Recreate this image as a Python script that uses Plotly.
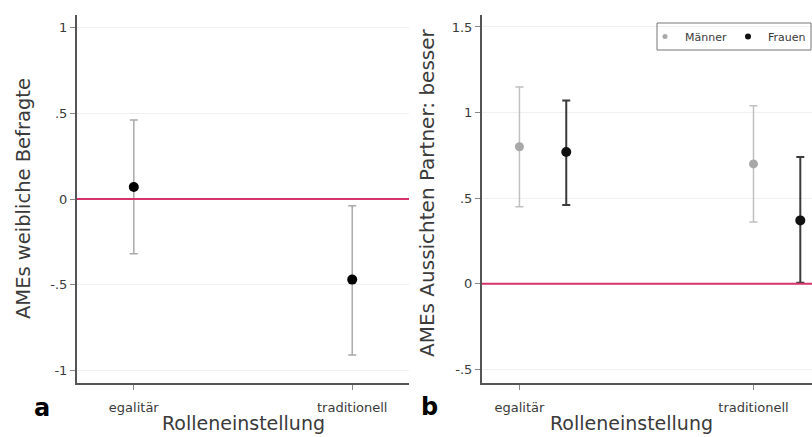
import plotly.graph_objects as go

categories = ["egalitär", "traditionell"]
cat_pos = [1, 2]

# Panel a: AMEs weibliche Befragte
a_est = [0.07, -0.47]
a_lo = [-0.32, -0.91]
a_hi = [0.46, -0.04]

# Panel b: AMEs Aussichten Partner: besser
m_est = [0.80, 0.70]
m_lo = [0.45, 0.36]
m_hi = [1.15, 1.04]
f_est = [0.77, 0.37]
f_lo = [0.46, 0.005]
f_hi = [1.07, 0.74]
f_offset = 0.2

a_ticks = [1, 0.5, 0, -0.5, -1]
a_ticktext = ["1", ".5", "0", "-.5", "-1"]
b_ticks = [1.5, 1, 0.5, 0, -0.5]
b_ticktext = ["1.5", "1", ".5", "0", "-.5"]

W, H = 812, 437
FONT = "DejaVu Sans, Liberation Sans, Arial, sans-serif"
TXT = "#3a3a3a"

fig = go.Figure()

fig.add_trace(go.Scatter(
    x=cat_pos, y=a_est, mode="markers", xaxis="x", yaxis="y", showlegend=False,
    marker=dict(color="black", size=10),
    error_y=dict(type="data", symmetric=False,
                 array=[h - e for h, e in zip(a_hi, a_est)],
                 arrayminus=[e - l for e, l in zip(a_est, a_lo)],
                 color="#a9a9a9", thickness=1.5, width=4),
))

fig.add_trace(go.Scatter(
    x=cat_pos, y=m_est, mode="markers", xaxis="x2", yaxis="y2", name="Männer", showlegend=False,
    marker=dict(color="#a8a8a8", size=9),
    error_y=dict(type="data", symmetric=False,
                 array=[h - e for h, e in zip(m_hi, m_est)],
                 arrayminus=[e - l for e, l in zip(m_est, m_lo)],
                 color="#c0c0c0", thickness=1.5, width=4),
))
fig.add_trace(go.Scatter(
    x=[p + f_offset for p in cat_pos], y=f_est, mode="markers", xaxis="x2", yaxis="y2",
    name="Frauen", showlegend=False,
    marker=dict(color="#111111", size=10),
    error_y=dict(type="data", symmetric=False,
                 array=[h - e for h, e in zip(f_hi, f_est)],
                 arrayminus=[e - l for e, l in zip(f_est, f_lo)],
                 color="#3a3a3a", thickness=2, width=4),
))
# legend entries (small symbols as in the original)
fig.add_trace(go.Scatter(x=[None], y=[None], mode="markers", name="Männer", xaxis="x2", yaxis="y2",
                         marker=dict(color="#a8a8a8", size=5)))
fig.add_trace(go.Scatter(x=[None], y=[None], mode="markers", name="Frauen", xaxis="x2", yaxis="y2",
                         marker=dict(color="#111111", size=6)))

ydom = [1 - 383 / H, 1 - 15 / H]
axis_common = dict(showline=True, linecolor="#555555", linewidth=2, ticks="outside",
                   ticklen=5, tickcolor="#888888", tickfont=dict(family=FONT, size=13, color=TXT),
                   zeroline=False, automargin=False)
xtickfont = dict(family=FONT, size=13, color=TXT)

fig.update_layout(
    width=W, height=H, margin=dict(l=0, r=0, t=0, b=0, autoexpand=False),
    paper_bgcolor="white", plot_bgcolor="white",
    font=dict(family=FONT),
    xaxis=dict(domain=[77 / W, 409 / W], range=[0.74, 2.26], tickvals=cat_pos, ticktext=categories,
               showgrid=False, anchor="y", ticklabelstandoff=6,
               **{**axis_common, "tickfont": xtickfont}),
    yaxis=dict(domain=ydom, range=[-1.073, 1.073], tickvals=a_ticks, ticktext=a_ticktext,
               showgrid=True, gridcolor="#f0f0f0", anchor="x", **axis_common),
    xaxis2=dict(domain=[482 / W, 1.0], range=[0.84, 2.25], tickvals=cat_pos, ticktext=categories,
                showgrid=False, anchor="y2", ticklabelstandoff=6,
                **{**axis_common, "tickfont": xtickfont}),
    yaxis2=dict(domain=ydom, range=[-0.58, 1.57], tickvals=b_ticks, ticktext=b_ticktext,
                showgrid=True, gridcolor="#f0f0f0", anchor="x2", **axis_common),
    legend=dict(x=645 / W, y=1 - 36.5 / H, xanchor="left", yanchor="middle", orientation="h",
                borderwidth=0, bgcolor="rgba(0,0,0,0)",
                font=dict(family=FONT, size=11, color=TXT),
                entrywidth=38, entrywidthmode="pixels"),
    shapes=[
        dict(type="line", xref="x domain", yref="y", x0=0, x1=1, y0=0, y1=0,
             line=dict(color="#d6336b", width=2)),
        dict(type="line", xref="x2 domain", yref="y2", x0=0, x1=1, y0=0, y1=0,
             line=dict(color="#d6336b", width=2)),
        dict(type="rect", xref="paper", yref="paper", x0=657 / W, x1=811 / W,
             y0=1 - 50 / H, y1=1 - 23 / H, line=dict(color="#777777", width=1),
             fillcolor="rgba(0,0,0,0)", layer="above"),
    ],
    annotations=[
        dict(text="<b>a</b>", x=42 / W, y=1 - 408 / H, xref="paper", yref="paper", showarrow=False,
             font=dict(family=FONT, size=24, color="black"), xanchor="center", yanchor="middle"),
        dict(text="<b>b</b>", x=430 / W, y=1 - 407 / H, xref="paper", yref="paper", showarrow=False,
             font=dict(family=FONT, size=24, color="black"), xanchor="center", yanchor="middle"),
        dict(text="Rolleneinstellung", x=243 / W, y=1 - 423 / H, xref="paper", yref="paper",
             showarrow=False, font=dict(family=FONT, size=19, color=TXT),
             xanchor="center", yanchor="middle"),
        dict(text="Rolleneinstellung", x=631 / W, y=1 - 423 / H, xref="paper", yref="paper",
             showarrow=False, font=dict(family=FONT, size=19, color=TXT),
             xanchor="center", yanchor="middle"),
        dict(text="AMEs weibliche Befragte", x=23 / W, y=1 - 199 / H, xref="paper", yref="paper",
             showarrow=False, textangle=-90, font=dict(family=FONT, size=19.5, color=TXT),
             xanchor="center", yanchor="middle"),
        dict(text="AMEs Aussichten Partner: besser", x=427 / W, y=1 - 193 / H, xref="paper",
             yref="paper", showarrow=False, textangle=-90,
             font=dict(family=FONT, size=20, color=TXT), xanchor="center", yanchor="middle"),
    ],
)

fig.write_html("out.html")
